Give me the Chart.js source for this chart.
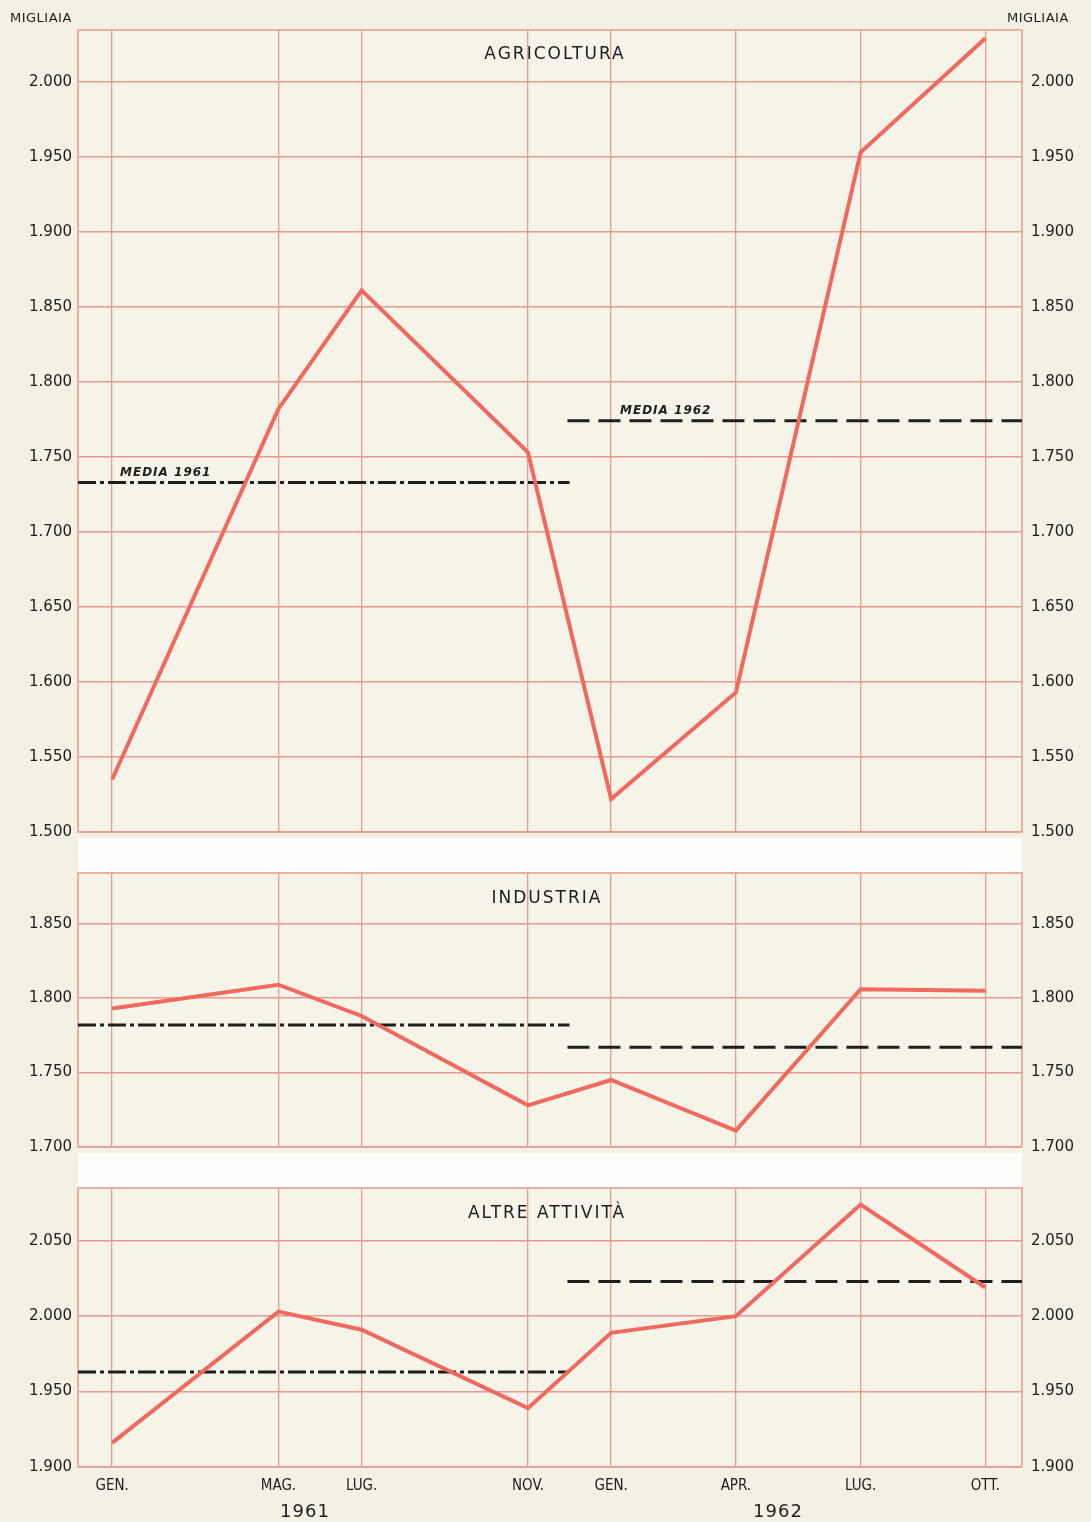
<!DOCTYPE html>
<html>
<head>
<meta charset="utf-8">
<script src="https://cdn.jsdelivr.net/npm/chart.js@4"></script>
<style>
	body { margin: 0; background: #f4f0e4; width: 1091px; height: 1522px; position: relative; overflow: hidden; font-family: "DejaVu Sans", sans-serif; color: #1c1c1c; }
	canvas { position: absolute; left: 0; }
	.band { position: absolute; left: 78px; width: 944px; background: #fdfdfb; }
	.txt { position: absolute; white-space: nowrap; }
	.unit { font-size: 13px; letter-spacing: 0.5px; top: 10px; }
	.title { font-size: 17px; letter-spacing: 2px; transform: translateX(-50%); }
	.media { font-size: 12px; font-style: italic; font-weight: bold; letter-spacing: 1px; }
	.year { font-size: 18px; letter-spacing: 1px; top: 1500px; transform: translateX(-50%); }
</style>
</head>
<body>
<div class="band" style="top:838px;height:34px"></div>
<div class="band" style="top:1153px;height:34px"></div>
<canvas id="agri_Chart" width="1091" height="850" style="top:0"></canvas>
<canvas id="ind_Chart" width="1091" height="315" style="top:850px"></canvas>
<canvas id="altre_Chart" width="1091" height="357" style="top:1165px"></canvas>
<div class="txt unit" style="left:10px">MIGLIAIA</div>
<div class="txt unit" style="left:1007px">MIGLIAIA</div>
<div class="txt title" style="left:555px;top:43px">AGRICOLTURA</div>
<div class="txt title" style="left:547px;top:887px">INDUSTRIA</div>
<div class="txt title" style="left:547px;top:1202px">ALTRE ATTIVITÀ</div>
<div class="txt media" style="left:120px;top:465px">MEDIA 1961</div>
<div class="txt media" style="left:620px;top:403px">MEDIA 1962</div>
<div class="txt year" style="left:305px">1961</div>
<div class="txt year" style="left:778px">1962</div>
<script>
// mesi (0 = gennaio 1961)
const months = [0, 4, 6, 10, 12, 15, 18, 21];
const monthLabels = ['GEN.', 'MAG.', 'LUG.', 'NOV.', 'GEN.', 'APR.', 'LUG.', 'OTT.'];

// valori in migliaia
const agricoltura = [1535, 1782, 1861, 1753, 1522, 1593, 1953, 2029];
const industria = [1793, 1809, 1788, 1728, 1745, 1711, 1806, 1805];
const altre = [1916, 2003, 1991, 1939, 1989, 2000, 2074, 2019];

// medie annue: agricoltura, industria, altre attività
const media1961 = [1733, 1782, 1963];
const media1962 = [1774, 1767, 2023];
const span1961 = [-0.82, 11.0];
const span1962 = [10.95, 21.88];

const ticksAgri = [1500, 1550, 1600, 1650, 1700, 1750, 1800, 1850, 1900, 1950, 2000];
const ticksInd = [1700, 1750, 1800, 1850];
const ticksAltre = [1900, 1950, 2000, 2050];

const gridColor = '#e69a90';

function fmt(v) {
	let s = String(v);
	return s.slice(0, s.length - 3) + '.' + s.slice(-3);
}

// cornice e sfondo dell'area del grafico
const framePlugin = {
	id: 'frame',
	beforeDraw: function(chart) {
		let a = chart.chartArea;
		chart.ctx.save();
		chart.ctx.fillStyle = '#f6f3e9';
		chart.ctx.fillRect(a.left, a.top, a.right - a.left, a.bottom - a.top);
		chart.ctx.restore();
	},
	beforeDatasetsDraw: function(chart) {
		let a = chart.chartArea;
		chart.ctx.save();
		chart.ctx.strokeStyle = gridColor;
		chart.ctx.lineWidth = 1.5;
		chart.ctx.strokeRect(a.left, a.top, a.right - a.left, a.bottom - a.top);
		chart.ctx.restore();
	}
};

function makePanel(id, values, m61, m62, yTicks, yMax, padTop, xHeight, showX) {
	let ctx = document.getElementById(id).getContext('2d');
	let yAxis = function(pos, w) {
		return {
			position: pos,
			min: yTicks[0],
			max: yMax,
			afterBuildTicks: function(s) { s.ticks = yTicks.map(function(v) { return { value: v }; }); },
			afterFit: function(s) { s.width = w; },
			grid: { display: pos == 'left', color: gridColor, lineWidth: 1.5, drawTicks: false },
			border: { display: false },
			ticks: {
				padding: pos == 'left' ? 6 : 9,
				color: '#1c1c1c',
				font: { family: 'DejaVu Sans', size: 15 },
				callback: function(v) { return fmt(v); }
			}
		};
	};
	return new Chart(ctx, {
		type: 'line',
		data: {
			datasets: [
				{
					data: months.map(function(m, i) { return { x: m, y: values[i] }; }),
					borderColor: '#ef6a5e',
					borderWidth: 4,
					pointRadius: 0,
					tension: 0
				},
				{
					data: [{ x: span1961[0], y: m61 }, { x: span1961[1], y: m61 }],
					borderColor: '#1e1e1e',
					borderWidth: 3,
					borderDash: [18, 4, 4, 4],
					pointRadius: 0
				},
				{
					data: [{ x: span1962[0], y: m62 }, { x: span1962[1], y: m62 }],
					borderColor: '#1e1e1e',
					borderWidth: 3,
					borderDash: [22, 9],
					pointRadius: 0
				}
			]
		},
		options: {
			responsive: false,
			animation: false,
			layout: { padding: { top: padTop, left: 0, right: 0, bottom: 0 } },
			plugins: { legend: { display: false }, tooltip: { enabled: false } },
			scales: {
				x: {
					type: 'linear',
					min: -0.82,
					max: 21.88,
					afterBuildTicks: function(s) { s.ticks = months.map(function(v) { return { value: v }; }); },
					afterFit: function(s) { s.height = xHeight; },
					grid: { color: gridColor, lineWidth: 1.3, drawTicks: false },
					border: { display: false },
					ticks: {
						display: showX,
						padding: 10,
						color: '#1c1c1c',
						font: { family: 'DejaVu Sans Condensed, DejaVu Sans', size: 15 },
						callback: function(v, i) { return monthLabels[i]; }
					}
				},
				y: yAxis('left', 78),
				y2: yAxis('right', 69)
			}
		},
		plugins: [framePlugin]
	});
}

makePanel('agri_Chart', agricoltura, media1961[0], media1962[0], ticksAgri, 2034.5, 30, 15, false);
makePanel('ind_Chart', industria, media1961[1], media1962[1], ticksInd, 1884, 23, 15, false);
makePanel('altre_Chart', altre, media1961[2], media1962[2], ticksAltre, 2085, 23, 55, true);
</script>
</body>
</html>
